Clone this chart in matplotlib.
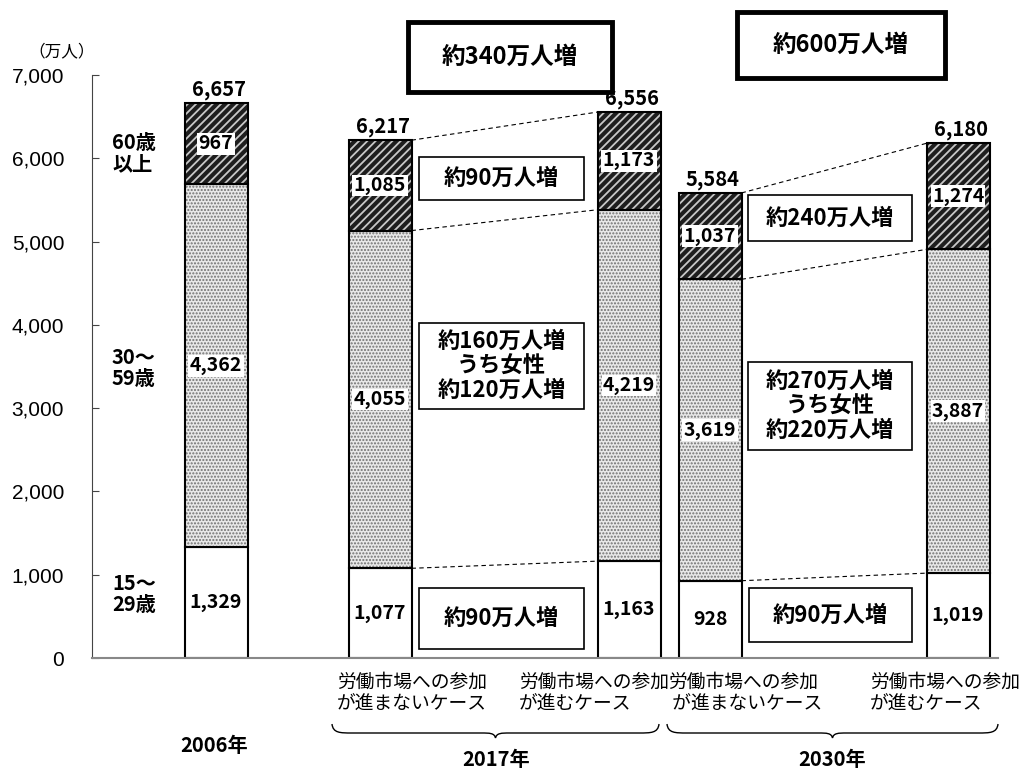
import numpy as np
import matplotlib
matplotlib.use('Agg')
import matplotlib.pyplot as plt
from matplotlib.patches import Rectangle, PathPatch
from matplotlib.path import Path

plt.rcParams['font.family'] = ['Noto Sans CJK JP', 'DejaVu Sans']

# data (万人)
bar_pos = [216, 380, 629, 710, 958]          # bar centres (layout)
young = [1329, 1077, 1163, 928, 1019]        # 15-29歳
middle = [4362, 4055, 4219, 3619, 3887]      # 30-59歳
old = [967, 1085, 1173, 1037, 1274]          # 60歳以上
totals = [6657, 6217, 6556, 5584, 6180]
case_labels = ['労働市場への参加\nが進まないケース', '労働市場への参加\nが進むケース',
               '労働市場への参加\n が進まないケース', '労働市場への参加\nが進むケース']
case_x = [337, 519, 668, 870]
years = ['2006年', '2017年', '2030年']
year_xy = [(214, 746), (496, 760), (832, 760)]
age_labels = ['60歳\n以上', '30～\n59歳', '15～\n29歳']
age_y = [153, 368, 594]

W = 63
young = np.array(young); middle = np.array(middle); old = np.array(old)

fig = plt.figure(figsize=(10.24, 7.7), dpi=100)
ax = fig.add_axes([92/1024, 112/770, (998-92)/1024, 583/770])
ax.set_xlim(92, 998)
ax.set_ylim(0, 7000)

# bars
ax.bar(bar_pos, young, W, color='white', edgecolor='black', lw=1.5, zorder=2)
plt.rcParams['hatch.linewidth'] = 1.0
ax.bar(bar_pos, middle, W, bottom=young, color='#e8e8e8', edgecolor='#707070',
       hatch='.....', lw=0, zorder=2)
ax.bar(bar_pos, middle, W, bottom=young, fill=False, edgecolor='black', lw=1.5, zorder=3)
plt.rcParams['hatch.linewidth'] = 1.3
ax.bar(bar_pos, old, W, bottom=young + middle, color='#1e1e1e', edgecolor='#c8c8c8',
       hatch='////', lw=0, zorder=2)
ax.bar(bar_pos, old, W, bottom=young + middle, fill=False, edgecolor='black', lw=1.5, zorder=3)

# segment values
for i, x in enumerate(bar_pos):
    ax.text(x, young[i] / 2, f'{young[i]:,}', ha='center', va='center',
            fontsize=14, fontweight='bold', zorder=5)
    ax.text(x, young[i] + middle[i] / 2, f'{middle[i]:,}', ha='center', va='center',
            fontsize=14, fontweight='bold', zorder=5,
            bbox=dict(facecolor='white', edgecolor='none', pad=1))
    ax.text(x, young[i] + middle[i] + old[i] / 2, f'{old[i]:,}', ha='center', va='center',
            fontsize=14, fontweight='bold', zorder=5,
            bbox=dict(facecolor='white', edgecolor='none', pad=1))
    ax.text(x + 3, totals[i] + 40, f'{totals[i]:,}', ha='center', va='bottom',
            fontsize=14.5, fontweight='bold', zorder=5)

# dashed connectors between paired bars
for a, b in [(1, 2), (3, 4)]:
    for lv in [young, young + middle, young + middle + old]:
        ax.plot([bar_pos[a] + W/2, bar_pos[b] - W/2], [lv[a], lv[b]],
                ls=(0, (4, 3)), color='black', lw=0.8, zorder=1)

# axes styling
for s in ['top', 'right']:
    ax.spines[s].set_visible(False)
ax.spines['left'].set_color('#444444')
ax.spines['bottom'].set_color('#888888')
ax.spines['bottom'].set_linewidth(1.5)
ax.set_xticks([])
ax.set_yticks(np.arange(0, 7001, 1000))
ax.set_yticklabels([f'{v:,}' for v in range(0, 7001, 1000)], family='Liberation Sans', fontsize=15)
ax.tick_params(axis='y', direction='in', length=5, pad=20, color='#444444')

# overlay in pixel coordinates for annotations
ov = fig.add_axes([0, 0, 1, 1], zorder=10)
ov.set_xlim(0, 1024)
ov.set_ylim(770, 0)
ov.axis('off')

ov.text(62, 52, '（万人）', ha='center', va='center', fontsize=12)

for lab, y in zip(age_labels, age_y):
    ov.text(112, y, lab, ha='left', va='center', fontsize=14.5, fontweight='bold', linespacing=1.0)

def box(x0, x1, y0, y1, text, lw=1.2, fs=16):
    ov.add_patch(Rectangle((x0, y0), x1 - x0, y1 - y0, facecolor='white',
                           edgecolor='black', lw=lw))
    ov.text((x0 + x1) / 2, (y0 + y1) / 2, text, ha='center', va='center',
            fontsize=fs, fontweight='bold', linespacing=1.1)

box(408, 612, 22, 92, '約340万人増', lw=3.5, fs=17)
box(737, 945, 12, 78, '約600万人増', lw=3.5, fs=17)
box(419, 584, 157, 200, '約90万人増')
box(419, 584, 323, 409, '約160万人増\nうち女性\n約120万人増')
box(419, 584, 588, 649, '約90万人増')
box(748, 912, 195, 241, '約240万人増')
box(748, 912, 362, 450, '約270万人増\nうち女性\n約220万人増')
box(749, 912, 588, 642, '約90万人増')

for lab, x in zip(case_labels, case_x):
    ov.text(x, 693, lab, ha='left', va='center', fontsize=13.5, linespacing=1.05)

for lab, (x, y) in zip(years, year_xy):
    ov.text(x, y, lab, ha='center', va='center', fontsize=14.5, fontweight='bold')

def brace(x0, x1, y0, d=9, tip=5):
    xm = (x0 + x1) / 2
    yb = y0 + d
    verts = [(x0, y0), (x0 + 1, yb), (x0 + 8, yb), (x0 + 20, yb),
             (xm - 14, yb),
             (xm - 6, yb), (xm - 1, yb), (xm, yb + tip),
             (xm + 1, yb), (xm + 6, yb), (xm + 14, yb),
             (x1 - 20, yb),
             (x1 - 8, yb), (x1 - 1, yb), (x1, y0)]
    codes = [Path.MOVETO, Path.CURVE4, Path.CURVE4, Path.CURVE4,
             Path.LINETO,
             Path.CURVE4, Path.CURVE4, Path.CURVE4,
             Path.CURVE4, Path.CURVE4, Path.CURVE4,
             Path.LINETO,
             Path.CURVE4, Path.CURVE4, Path.CURVE4]
    ov.add_patch(PathPatch(Path(verts, codes), fill=False, edgecolor='black', lw=1.0))

brace(332, 659, 724)
brace(667, 998, 724)

plt.savefig('out.png', dpi=100)
